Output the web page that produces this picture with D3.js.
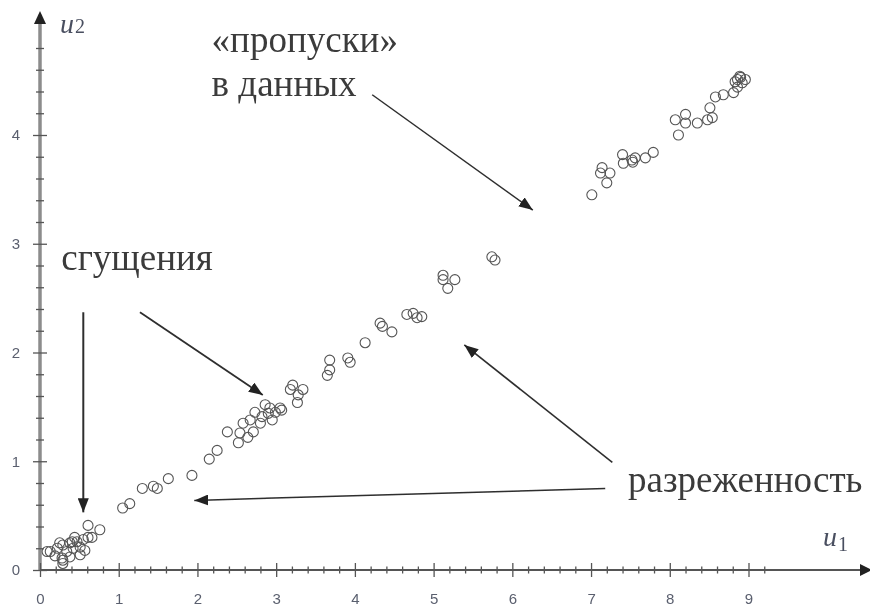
<!DOCTYPE html>
<html>
<head>
<meta charset="utf-8">
<script src="https://cdn.jsdelivr.net/npm/d3@7"></script>
<style>
  html, body { margin: 0; padding: 0; background: #fff; }
  svg { display: block; }
</style>
</head>
<body>
<svg id="chart" width="870" height="606"></svg>
<script>
// Scatter of (u1, u2) observations lying along a straight band
const u1Values = [
  0.13, 0.22, 0.29, 0.38, 0.47, 0.55, 0.66, 0.61, 0.76, 0.42, 0.34, 0.51, 0.28, 0.38, 0.29, 0.57, 0.51,
  0.09, 0.25, 0.41, 0.29, 0.61, 0.19, 0.44,
  1.05, 1.14, 1.30, 1.44, 1.49, 1.63, 1.93, 2.15, 2.25,
  2.38, 2.52, 2.54, 2.64, 2.58, 2.71, 2.73, 2.67, 2.80, 2.86, 2.90, 2.82, 2.92, 2.99, 3.05, 2.95, 3.07,
  3.18, 3.28, 3.34, 3.27, 3.21,
  3.65, 3.68, 3.68, 3.91, 3.94, 4.13, 4.32, 4.35, 4.47, 4.66, 4.74, 4.79, 4.85,
  5.12, 5.27, 5.18, 5.12, 5.74, 5.78,
  7.01, 7.12, 7.24, 7.20, 7.14, 7.40, 7.41, 7.52, 7.56, 7.53, 7.69, 7.79,
  8.07, 8.20, 8.20, 8.11, 8.35, 8.48, 8.51, 8.54, 8.58, 8.68, 8.81,
  8.86, 8.89, 8.92, 8.86, 8.96, 8.83, 8.90
];
const u2Values = [
  0.17, 0.20, 0.23, 0.25, 0.26, 0.28, 0.30, 0.41, 0.37, 0.20, 0.17, 0.21, 0.11, 0.12, 0.06, 0.18, 0.14,
  0.17, 0.25, 0.26, 0.09, 0.30, 0.13, 0.30,
  0.57, 0.61, 0.75, 0.77, 0.75, 0.84, 0.87, 1.02, 1.10,
  1.27, 1.17, 1.26, 1.22, 1.35, 1.27, 1.45, 1.38, 1.35, 1.52, 1.44, 1.41, 1.49, 1.45, 1.49, 1.38, 1.47,
  1.66, 1.61, 1.66, 1.54, 1.70,
  1.79, 1.84, 1.93, 1.95, 1.91, 2.09, 2.27, 2.24, 2.19, 2.35, 2.36, 2.32, 2.33,
  2.67, 2.67, 2.59, 2.71, 2.88, 2.85,
  3.45, 3.65, 3.65, 3.56, 3.70, 3.82, 3.74, 3.77, 3.79, 3.75, 3.79, 3.84,
  4.14, 4.19, 4.11, 4.00, 4.11, 4.14, 4.25, 4.16, 4.35, 4.37, 4.39,
  4.51, 4.54, 4.48, 4.44, 4.51, 4.49, 4.53
];

// Axis ticks
const xMajorTicks = [0, 1, 2, 3, 4, 5, 6, 7, 8, 9];
const yMajorTicks = [0, 1, 2, 3, 4];
const xMinorTicks = d3.range(0, 47).map(i => i / 5).filter(v => !Number.isInteger(v));
const yMinorTicks = d3.range(0, 25).map(i => i / 5).filter(v => !Number.isInteger(v));

// Annotation texts (positions in data units)
const labels = [
  { text: "«пропуски»", u1: 2.18, u2: 4.76 },
  { text: "в данных", u1: 2.18, u2: 4.36 },
  { text: "сгущения", u1: 0.27, u2: 2.76 },
  { text: "разреженность", u1: 7.47, u2: 0.72 }
];
// Arrows: from -> to, in data units
const arrows = [
  { from: [4.22, 4.37], to: [6.26, 3.31], w: 1.5 },
  { from: [0.55, 2.37], to: [0.55, 0.53], w: 2 },
  { from: [1.27, 2.37], to: [2.83, 1.61], w: 1.8 },
  { from: [7.18, 0.75], to: [1.96, 0.64], w: 1.5 },
  { from: [7.27, 0.99], to: [5.39, 2.07], w: 1.6 }
];

const points = u1Values.map((v, i) => ({ u1: v, u2: u2Values[i] }));

const svg = d3.select("#chart");
const x = d3.scaleLinear().domain([0, 9]).range([40, 748.5]);
const y = d3.scaleLinear().domain([0, 4]).range([570, 135]);

const defs = svg.append("defs");
defs.append("marker")
  .attr("id", "head")
  .attr("viewBox", "0 0 14 11")
  .attr("refX", 14).attr("refY", 5.5)
  .attr("markerWidth", 14).attr("markerHeight", 11)
  .attr("markerUnits", "userSpaceOnUse")
  .attr("orient", "auto")
  .append("path").attr("d", "M0,0 L14,5.5 L0,11 Z").attr("fill", "#222");

defs.append("filter").attr("id", "soft")
  .append("feGaussianBlur").attr("stdDeviation", 0.45);

const g = svg.append("g").attr("filter", "url(#soft)");

// y axis line with arrow
g.append("line")
  .attr("x1", x(0)).attr("x2", x(0))
  .attr("y1", y(0)).attr("y2", 22)
  .attr("stroke", "#8c8c8c").attr("stroke-width", 3.5);
g.append("path")
  .attr("d", `M${x(0) - 6},24 L${x(0)},11 L${x(0) + 6},24 Z`)
  .attr("fill", "#222");

// x axis line with arrow
g.append("line")
  .attr("x1", x(0)).attr("x2", 862)
  .attr("y1", y(0)).attr("y2", y(0))
  .attr("stroke", "#555").attr("stroke-width", 2.2);
g.append("path")
  .attr("d", `M860,${y(0) - 6} L872,${y(0)} L860,${y(0) + 6} Z`)
  .attr("fill", "#222");

// x axis ticks
const xMajor = d3.axisBottom(x).tickValues(xMajorTicks).tickFormat(d3.format("d")).tickSize(0).tickPadding(0);
const xAx = g.append("g").attr("transform", `translate(0,${y(0)})`).call(xMajor);
xAx.select(".domain").remove();
xAx.selectAll(".tick line").attr("y1", -7).attr("y2", 7).attr("stroke", "#555").attr("stroke-width", 1.3);
xAx.selectAll(".tick text")
  .attr("y", 34).attr("dy", 0)
  .attr("font-family", "Liberation Sans, Arial, sans-serif")
  .attr("font-size", 15).attr("fill", "#5a5f6e");

const xMinor = d3.axisBottom(x).tickValues(xMinorTicks).tickFormat("").tickSize(0);
const xMi = g.append("g").attr("transform", `translate(0,${y(0)})`).call(xMinor);
xMi.select(".domain").remove();
xMi.selectAll(".tick line").attr("y1", -3.5).attr("y2", 3.5).attr("stroke", "#555").attr("stroke-width", 1.3);

// y axis ticks
const yMajor = d3.axisLeft(y).tickValues(yMajorTicks).tickFormat(d3.format("d")).tickSize(0).tickPadding(0);
const yAx = g.append("g").attr("transform", `translate(${x(0)},0)`).call(yMajor);
yAx.select(".domain").remove();
yAx.selectAll(".tick line").attr("x1", -7).attr("x2", 7).attr("stroke", "#555").attr("stroke-width", 1.3);
yAx.selectAll(".tick text")
  .attr("x", -20).attr("dy", "0.32em")
  .attr("font-family", "Liberation Sans, Arial, sans-serif")
  .attr("font-size", 15).attr("fill", "#5a5f6e");

const yMinor = d3.axisLeft(y).tickValues(yMinorTicks).tickFormat("").tickSize(0);
const yMi = g.append("g").attr("transform", `translate(${x(0)},0)`).call(yMinor);
yMi.select(".domain").remove();
yMi.selectAll(".tick line").attr("x1", -4).attr("x2", 4).attr("stroke", "#555").attr("stroke-width", 1.3);

// axis names
const u2Label = g.append("text").attr("x", 60).attr("y", 33)
  .attr("font-family", "Liberation Serif, serif").attr("fill", "#4a4f60");
u2Label.append("tspan").attr("font-style", "italic").attr("font-size", 28).text("u");
u2Label.append("tspan").attr("font-size", 20).attr("dx", 1).text("2");

const u1Label = g.append("text").attr("x", 823).attr("y", 546)
  .attr("font-family", "Liberation Serif, serif").attr("fill", "#4a4f60");
u1Label.append("tspan").attr("font-style", "italic").attr("font-size", 28).text("u");
u1Label.append("tspan").attr("font-size", 20).attr("dx", 1).attr("dy", 5).text("1");

// data points
g.append("g").selectAll("circle")
  .data(points)
  .join("circle")
  .attr("cx", d => x(d.u1))
  .attr("cy", d => y(d.u2))
  .attr("r", 5)
  .attr("fill", "none")
  .attr("stroke", "#555")
  .attr("stroke-width", 1.1);

// annotations
g.append("g").selectAll("text")
  .data(labels)
  .join("text")
  .attr("x", d => x(d.u1))
  .attr("y", d => y(d.u2))
  .attr("font-family", "Liberation Serif, serif")
  .attr("font-size", 37)
  .attr("fill", "#3a3a3a")
  .text(d => d.text);

g.append("g").selectAll("line")
  .data(arrows)
  .join("line")
  .attr("x1", d => x(d.from[0])).attr("y1", d => y(d.from[1]))
  .attr("x2", d => x(d.to[0])).attr("y2", d => y(d.to[1]))
  .attr("stroke", "#2e2e2e")
  .attr("stroke-width", d => d.w)
  .attr("marker-end", "url(#head)");
</script>
</body>
</html>
